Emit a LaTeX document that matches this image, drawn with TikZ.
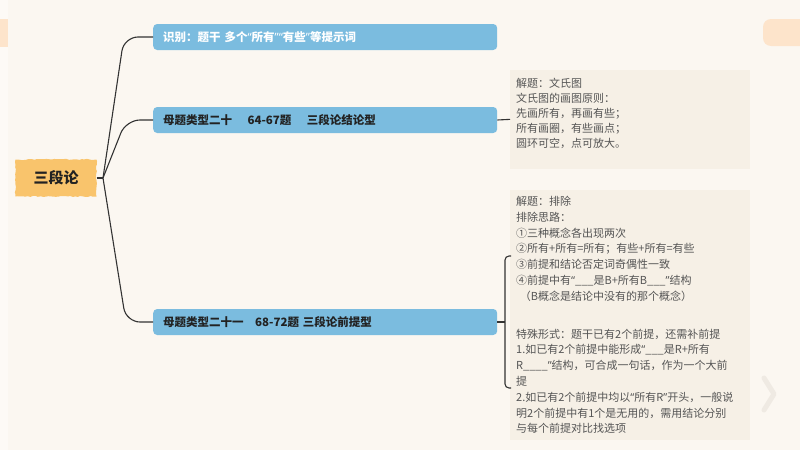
\documentclass[tikz,border=0pt]{standalone}
\usepackage{fontspec}
\usepackage{tikz}
\usetikzlibrary{%
	calc,%
	shapes,%
	decorations.pathmorphing%
}
\newfontfamily\cjk{Noto Sans CJK SC}
\newfontfamily\lat{Noto Sans}
\newcommand{\qo}{{\lat “}}
\newcommand{\qc}{{\lat ”}}
\definecolor{paper}{HTML}{FBF7F1}
\definecolor{edge}{HTML}{FDFAF6}
\definecolor{peach}{HTML}{FDE4CB}
\definecolor{sky}{HTML}{7BBCDF}
\definecolor{gold}{HTML}{F9C46C}
\definecolor{memo}{HTML}{F6F0E6}
\definecolor{ink}{HTML}{333333}
\definecolor{dark}{HTML}{222222}
\definecolor{grey}{HTML}{555555}
\definecolor{ghost}{HTML}{EFEAE3}

\begin{document}
\begin{tikzpicture}[x=1pt,y=-1pt,
		line/.style={draw=ink, line width=1.1pt},
		bar/.style={fill=sky, rounded corners=4pt, anchor=west, minimum height=26pt,
			text width=324pt, inner xsep=10pt, align=left, text=dark,
			font=\cjk\fontsize{11.5}{14}\selectfont\bfseries},
		memobox/.style={fill=memo, anchor=north west, text width=228pt, inner xsep=6pt,
			inner ysep=8pt, align=left, text=grey}]
		\useasboundingbox (0,0) rectangle (800,450);
		\fill[paper] (0,0) rectangle (800,450);
		\fill[edge] (0,0) rectangle (8,450);
		\fill[peach] (0,19) rectangle (8,47);
		\fill[peach, rounded corners=8pt] (763,19) rectangle (812,46);
		\draw[ghost, line width=5pt, line cap=round, line join=round] (764,378) -- (774,394) -- (764,410);

		\node[fill=gold, minimum width=81pt, minimum height=37pt, inner sep=0pt, text=dark,
			font=\cjk\fontsize{15}{18}\selectfont\bfseries,
			decorate, decoration={random steps, segment length=2.5pt, amplitude=0.6pt}] (R) at (56,178) {三段论};
		\node[bar, text=white] (A) at (153,37) {识别：题干\ 多个\qo 所有\qc\qo 有些\qc 等提示词};
		\node[bar] (B) at (153,120) {母题类型二十\quad\ 64-67题\quad\ 三段论结论型};
		\node[bar] (C) at (153,322) {母题类型二十一\quad 68-72题\ 三段论前提型};

		\node[memobox, font=\cjk\fontsize{11}{15}\selectfont] (V) at (510,70) {解题：文氏图\\
			文氏图的画图原则：\\
			先画所有，再画有些；\\
			所有画圈，有些画点；\\
			圆环可空，点可放大。\rule[-13pt]{0pt}{13pt}};
		\node[memobox, inner ysep=6pt, font=\cjk\fontsize{11}{15.8}\selectfont] (E) at (510,190) {解题：排除\\
			排除思路：\\
			①三种概念各出现两次\\
			②所有+所有=所有；有些+所有=有些\\
			③前提和结论否定词奇偶性一致\\
			④前提中有\qo\_\_\_是B+所有B\_\_\_\qc 结构\\
			\ （B概念是结论中没有的那个概念）\\[22pt]
			特殊形式：题干已有2个前提，还需补前提\\
			1.如已有2个前提中能形成\qo\_\_\_是R+所有\\
			R\_\_\_\_\qc 结构，可合成一句话，作为一个大前\\
			提\\
			2.如已有2个前提中均以\qo 所有R\qc 开头，一般说\\
			明2个前提中有1个是无用的，需用结论分别\\
			与每个前提对比找选项};

		\coordinate (H) at (103,178);
		\coordinate (K) at (505,322);
		\draw[line] (R.east) -- (H);
		\draw[line, rounded corners=14pt] (H) -- (124,37) -- (A.west);
		\draw[line, rounded corners=14pt] (H) -- (126,120) -- (B.west);
		\draw[line, rounded corners=14pt] (H) -- (126,322) -- (C.west);
		\draw[line] (B.east) -- (V.west);
		\draw[line] (C.east) -- (K);
		\draw[line, rounded corners=4pt] (511,256) -- (505,256) -- (505,388) -- (511,388);
	\end{tikzpicture}
\end{document}
